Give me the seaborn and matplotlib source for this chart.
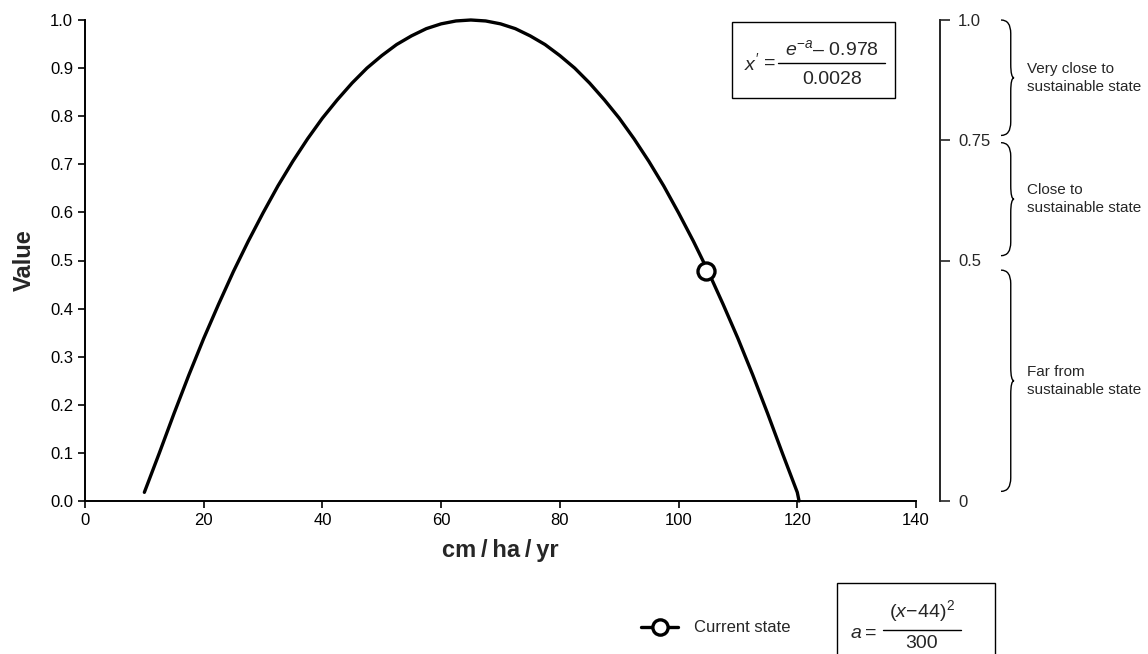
import numpy as np
import pandas as pd
import matplotlib
matplotlib.use("Agg")
import matplotlib.pyplot as plt
from matplotlib.path import Path
from matplotlib.patches import PathPatch, Rectangle
from matplotlib.lines import Line2D
import seaborn as sns

# ---- data ----
x_vals = [10, 12.5, 15, 17.5, 20, 22.5, 25, 27.5, 30, 32.5, 35, 37.5, 40, 42.5, 45, 47.5,
          50, 52.5, 55, 57.5, 60, 62.5, 65, 67.5, 70, 72.5, 75, 77.5, 80, 82.5, 85, 87.5,
          90, 92.5, 95, 97.5, 100, 102.5, 105, 107.5, 110, 112.5, 115, 117.5, 120, 120.3]
y_vals = [0.018, 0.099, 0.182, 0.262, 0.338, 0.409, 0.477, 0.540, 0.599, 0.655, 0.706, 0.753,
          0.796, 0.834, 0.869, 0.900, 0.926, 0.949, 0.967, 0.982, 0.992, 0.998, 1.000, 0.998,
          0.992, 0.982, 0.967, 0.949, 0.926, 0.900, 0.869, 0.834, 0.796, 0.753, 0.706, 0.655,
          0.599, 0.540, 0.477, 0.409, 0.338, 0.262, 0.182, 0.099, 0.018, 0.000]
current_x = [104.7]
current_y = [0.478]
x_ticks = [0, 20, 40, 60, 80, 100, 120, 140]
y_ticks = [0.0, 0.1, 0.2, 0.3, 0.4, 0.5, 0.6, 0.7, 0.8, 0.9, 1.0]
scale_ticks = [0, 0.5, 0.75, 1.0]
scale_labels = ["0", "0.5", "0.75", "1.0"]
band_ranges = [(0.76, 1.0), (0.51, 0.745), (0.02, 0.48)]
band_labels = ["Very close to\nsustainable state", "Close to\nsustainable state",
               "Far from\nsustainable state"]

sns.set_style("ticks")
plt.rcParams["font.family"] = ["Liberation Sans", "DejaVu Sans"]
plt.rcParams["mathtext.fontset"] = "custom"
plt.rcParams["mathtext.rm"] = "Liberation Sans"
plt.rcParams["mathtext.it"] = "Liberation Sans:italic"
plt.rcParams["mathtext.bf"] = "Liberation Sans:bold"

W, H = 1148, 654
fig = plt.figure(figsize=(W / 100, H / 100), dpi=100)

def fx(p):
    return p / W

def fy(p):
    return 1 - p / H

ax = fig.add_axes([fx(85), fy(501), fx(916 - 85), (501 - 20) / H])
df = pd.DataFrame({"x": x_vals, "y": y_vals})
sns.lineplot(data=df, x="x", y="y", ax=ax, color="black", linewidth=2.4, sort=False,
             clip_on=False)
sns.scatterplot(x=current_x, y=current_y, ax=ax, s=150, facecolor="white",
                edgecolor="black", linewidth=2.4, zorder=5)
ax.set_xlim(0, 140)
ax.set_ylim(0, 1.0)
ax.set_xticks(x_ticks)
ax.set_yticks(y_ticks)
ax.set_yticklabels([f"{v:.1f}" for v in y_ticks])
for s in ["top", "right"]:
    ax.spines[s].set_visible(False)
for s in ["left", "bottom"]:
    ax.spines[s].set_linewidth(1.4)
    ax.spines[s].set_color("black")
ax.tick_params(axis="both", direction="out", length=5, width=1.2, labelsize=12, colors="black")
ax.set_xlabel("cm\u2009/\u2009ha\u2009/\u2009yr", fontsize=17, fontweight="bold", labelpad=8)
ax.set_ylabel("Value", fontsize=17, fontweight="bold", labelpad=10)

# right-hand scale
ax2 = fig.add_axes([fx(939), fy(501), fx(1), (501 - 20) / H])
ax2.set_ylim(0, 1.0)
ax2.set_xticks([])
for s in ["top", "bottom", "left"]:
    ax2.spines[s].set_visible(False)
ax2.spines["right"].set_linewidth(1.4)
ax2.yaxis.tick_right()
ax2.set_yticks(scale_ticks)
ax2.set_yticklabels(scale_labels)
ax2.tick_params(axis="y", direction="out", length=7, width=1.2, labelsize=12, pad=6)
ax2.patch.set_alpha(0)

# braces
ax3 = fig.add_axes([fx(1001), fy(501), fx(13), (501 - 20) / H])
ax3.set_xlim(0, 1)
ax3.set_ylim(0, 1.0)
ax3.axis("off")
r = 0.028
for (y0, y1), lab in zip(band_ranges, band_labels):
    m = (y0 + y1) / 2
    verts = [(0, y1), (0.75, y1), (0.75, y1 - r), (0.75, m + r), (0.75, m), (1.0, m),
             (0.75, m), (0.75, m - r), (0.75, y0 + r), (0.75, y0), (0, y0)]
    codes = [Path.MOVETO, Path.CURVE3, Path.CURVE3, Path.LINETO, Path.CURVE3, Path.CURVE3,
             Path.CURVE3, Path.CURVE3, Path.LINETO, Path.CURVE3, Path.CURVE3]
    ax3.add_patch(PathPatch(Path(verts, codes), facecolor="none", edgecolor="black",
                            linewidth=1.0, clip_on=False))
    ax3.text(2.0, m, lab, fontsize=11, va="center", ha="left",
             linespacing=1.35, clip_on=False)

# formula boxes (built from pieces for spacing)
def box(x0, y0, x1, y1):
    fig.patches.append(Rectangle((fx(x0), fy(y1)), fx(x1 - x0), (y1 - y0) / H,
                                 transform=fig.transFigure, facecolor="white",
                                 edgecolor="black", linewidth=1.0, zorder=1))

def hbar(x0, x1, y):
    fig.lines.append(Line2D([fx(x0), fx(x1)], [fy(y), fy(y)], transform=fig.transFigure,
                            color="black", linewidth=1.0, zorder=2))

box(732, 22, 895, 98)
fig.text(fx(752), fy(63), r"$x'$", fontsize=14, ha="center", va="center", zorder=3)
fig.text(fx(770), fy(63), "=", fontsize=14, ha="center", va="center", zorder=3)
hbar(778, 885, 63)
fig.text(fx(832), fy(49), r"$e^{-a}$" + "\u2013 0.978", fontsize=14, ha="center",
         va="center", zorder=3)
fig.text(fx(832), fy(79), "0.0028", fontsize=14, ha="center", va="center", zorder=3)

box(837, 583, 995, 660)
fig.text(fx(856), fy(633), r"$a$", fontsize=14, ha="center", va="center", zorder=3)
fig.text(fx(871), fy(633), "=", fontsize=14, ha="center", va="center", zorder=3)
hbar(883, 961, 630)
fig.text(fx(922), fy(611), r"$(x\!-\!44)^2$", fontsize=14, ha="center", va="center", zorder=3)
fig.text(fx(922), fy(643), "300", fontsize=14, ha="center", va="center", zorder=3)

# legend
handle = Line2D([], [], color="black", linewidth=2.4, marker="o", markersize=11,
                markerfacecolor="white", markeredgecolor="black", markeredgewidth=2.4)
fig.legend([handle], ["Current state"], loc="center right",
           bbox_to_anchor=(fx(806), fy(628)), frameon=False, fontsize=12,
           handlelength=2.2, handletextpad=1.0)

fig.savefig("out.png", dpi=100)
